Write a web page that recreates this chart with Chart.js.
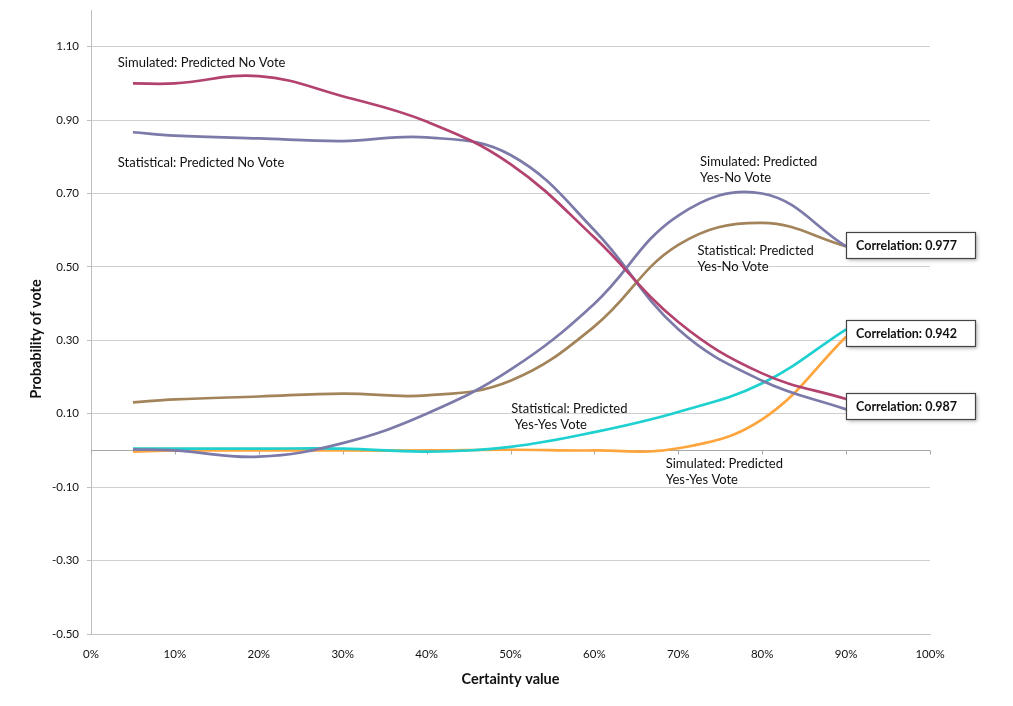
<!DOCTYPE html>
<html>
<head>
<meta charset="utf-8">
<script src="https://cdn.jsdelivr.net/npm/chart.js@4.4.0/dist/chart.umd.min.js"></script>
<style>
html, body { margin: 0; padding: 0; background: #fff; }
#wrap { width: 1013px; height: 706px; }
</style>
</head>
<body>
<div id="wrap"><canvas id="graphique"></canvas></div>
<script>
// certainty value (%) and probabilities
var certainty  = [5, 10, 20, 30, 40, 50, 60, 70, 80, 90];
var simNo      = [1.00, 1.00, 1.02, 0.965, 0.896, 0.78, 0.58, 0.35, 0.21, 0.14];
var statNo     = [0.867, 0.858, 0.850, 0.843, 0.853, 0.805, 0.60, 0.33, 0.19, 0.112];
var simYesNo   = [0.003, 0.0, -0.017, 0.02, 0.10, 0.22, 0.40, 0.64, 0.70, 0.556];
var statYesNo  = [0.131, 0.139, 0.147, 0.155, 0.150, 0.19, 0.338, 0.56, 0.62, 0.556];
var statYesYes = [0.005, 0.005, 0.005, 0.005, -0.003, 0.01, 0.05, 0.105, 0.183, 0.33];
var simYesYes  = [-0.003, 0.0, 0.0, 0.0, 0.0, 0.002, 0.0, 0.006, 0.085, 0.31];

var yTicks = [-0.5, -0.3, -0.1, 0.1, 0.3, 0.5, 0.7, 0.9, 1.1];
var xTicks = [0, 10, 20, 30, 40, 50, 60, 70, 80, 90, 100];

// curve labels, anchored in data units (x %, y probability)
var noteText = [
  ['Simulated: Predicted No Vote'],
  ['Statistical: Predicted No Vote'],
  ['Simulated: Predicted', 'Yes-No Vote'],
  ['Statistical: Predicted', 'Yes-No Vote'],
  ['Statistical: Predicted', ' Yes-Yes Vote'],
  ['Simulated: Predicted', 'Yes-Yes Vote']
];
var noteX = [3.2, 3.2, 72.6, 72.3, 50.1, 68.5];
var noteY = [1.057, 0.785, 0.787, 0.545, 0.114, -0.035];

var corrText = ['Correlation: 0.977', 'Correlation: 0.942', 'Correlation: 0.987'];
var corrY    = [0.559, 0.32, 0.12];

var yTitle = 'Probability of vote';

var crimson = '#b3426f', slate = '#7b7aa9', brown = '#a3845a', cyan = '#1fd0d0', orange = '#ffa53e';

function serie(vals, col) {
  return {
    data: certainty.map(function (x, i) { return { x: x, y: vals[i] }; }),
    borderColor: col,
    borderWidth: 2.7,
    pointRadius: 0,
    tension: 0.4,
    fill: false
  };
}

var zeroLine = {
  id: 'zeroLine',
  beforeDatasetsDraw: function (chart) {
    var c = chart.ctx, xs = chart.scales.x, ys = chart.scales.y;
    var y0 = Math.round(ys.getPixelForValue(0)) + 0.5;
    c.save();
    c.strokeStyle = '#a8a8a8';
    c.lineWidth = 1;
    c.beginPath();
    c.moveTo(chart.chartArea.left, y0);
    c.lineTo(chart.chartArea.right, y0);
    xTicks.forEach(function (t) {
      var px = Math.round(xs.getPixelForValue(t)) + 0.5;
      c.moveTo(px, y0);
      c.lineTo(px, y0 + 4);
    });
    c.stroke();
    c.restore();
  }
};

var notes = {
  id: 'notes',
  afterDatasetsDraw: function (chart) {
    var c = chart.ctx, xs = chart.scales.x, ys = chart.scales.y;
    c.save();
    c.fillStyle = '#111';
    c.font = '13px Lato';
    c.textAlign = 'left';
    c.textBaseline = 'middle';
    noteText.forEach(function (lines, i) {
      var px = xs.getPixelForValue(noteX[i]), py = ys.getPixelForValue(noteY[i]);
      lines.forEach(function (l, k) { c.fillText(l, px, py + k * 16); });
    });
    c.font = 'bold 12.5px Lato';
    var bx = xs.getPixelForValue(90);
    corrText.forEach(function (t, i) {
      var cy = ys.getPixelForValue(corrY[i]);
      var w = 129, h = 26;
      c.save();
      c.shadowColor = 'rgba(0,0,0,0.35)';
      c.shadowBlur = 4;
      c.shadowOffsetX = 2;
      c.shadowOffsetY = 2;
      c.fillStyle = '#fff';
      c.fillRect(bx, cy - h / 2, w, h);
      c.restore();
      c.strokeStyle = '#444';
      c.lineWidth = 1.2;
      c.strokeRect(Math.round(bx) + 0.5, Math.round(cy - h / 2) + 0.5, w, h);
      c.fillStyle = '#111';
      c.fillText(t, bx + 10, cy + 1);
    });
    // vertical axis title
    c.save();
    c.translate(36, 339);
    c.rotate(-Math.PI / 2);
    c.textAlign = 'center';
    c.font = 'bold 14.5px Lato';
    c.fillText(yTitle, 0, 0);
    c.restore();
    c.restore();
  }
};

var ctx = document.getElementById('graphique').getContext('2d');
var graph = new Chart(ctx, {
  type: 'line',
  data: {
    datasets: [
      serie(simNo, crimson),
      serie(statNo, slate),
      serie(simYesNo, slate),
      serie(statYesNo, brown),
      serie(statYesYes, cyan),
      serie(simYesYes, orange)
    ]
  },
  options: {
    responsive: true,
    maintainAspectRatio: false,
    animation: false,
    layout: { padding: { top: 10, right: 83, left: 0, bottom: 0 } },
    plugins: { legend: { display: false }, tooltip: { enabled: false } },
    scales: {
      x: {
        type: 'linear',
        min: 0,
        max: 100,
        afterBuildTicks: function (axis) { axis.ticks = xTicks.map(function (v) { return { value: v }; }); },
        afterFit: function (axis) { axis.height = 72; },
        grid: { display: false, drawTicks: false },
        border: { color: '#c4c4c4' },
        ticks: {
          padding: 13,
          color: '#111',
          font: { family: 'Lato', size: 11.5 },
          maxRotation: 0,
          callback: function (v) { return v + '%'; }
        },
        title: {
          display: true,
          text: 'Certainty value',
          color: '#111',
          font: { family: 'Lato', size: 14.5, weight: 'bold' },
          padding: { top: 4, bottom: 18 }
        }
      },
      y: {
        min: -0.5,
        max: 1.2,
        afterBuildTicks: function (axis) { axis.ticks = yTicks.map(function (v) { return { value: v }; }); },
        afterFit: function (axis) { axis.width = 91; axis.paddingTop = 0; axis.paddingBottom = 0; },
        grid: { color: '#cfcfcf', tickLength: 4, tickColor: '#bdbdbd' },
        border: { color: '#bdbdbd' },
        ticks: {
          padding: 8,
          color: '#111',
          font: { family: 'Lato', size: 11.5 },
          callback: function (v) { return v.toFixed(2); }
        },
        title: { display: false }
      }
    }
  },
  plugins: [zeroLine, notes]
});
</script>
</body>
</html>
